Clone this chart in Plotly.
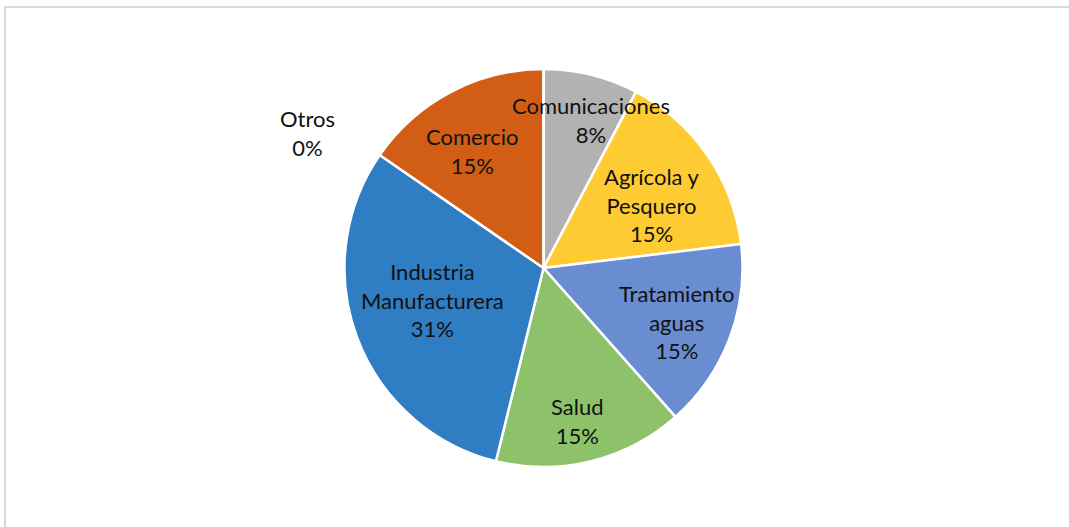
import math
import plotly.graph_objects as go

# dati (n. di casi per sector)
sectores = ["Comunicaciones", "Agrícola y<br>Pesquero", "Tratamiento<br>aguas",
            "Salud", "Industria<br>Manufacturera", "Comercio", "Otros"]
casos = [1, 2, 2, 2, 4, 2, 0]
colores = ["#B2B2B2", "#FFCB33", "#6A8DD1", "#8DC26A", "#2F7DC2", "#D15E14", "#7F7F7F"]

W, H = 1069, 527
CX, CY, R = 543.5, 268, 199

# posizione delle etichette: frazione del raggio e scarto angolare (gradi)
label_r = [0.78, 0.63, 0.72, 0.79, 0.58, 0.69]
label_da = [3.8, 4.7, 1.3, 1.3, 4.7, -3.7]

fig = go.Figure()
fig.add_trace(go.Pie(
    labels=sectores,
    values=casos,
    marker=dict(colors=colores, line=dict(color="#FFFFFF", width=2.5)),
    sort=False,
    direction="clockwise",
    rotation=0,
    textinfo="none",
    hoverinfo="label+percent",
    showlegend=False,
    domain=dict(x=[(CX - R) / W, (CX + R) / W], y=[1 - (CY + R) / H, 1 - (CY - R) / H]),
))

total = sum(casos)
acum = 0
for i, (nom, v) in enumerate(zip(sectores, casos)):
    pct = f"{round(100 * v / total)}%"
    if v == 0:
        # etichetta esterna per la fetta vuota
        x_px, y_px = 307, 133
    else:
        mid = (acum + v / 2) / total * 2 * math.pi + math.radians(label_da[i])
        rr = R * label_r[i]
        x_px = CX + rr * math.sin(mid)
        y_px = CY - rr * math.cos(mid)
    acum += v
    fig.add_annotation(
        x=x_px / W, y=1 - y_px / H, xref="paper", yref="paper",
        text=f"{nom}<br>{pct}", showarrow=False,
        font=dict(family="Lato", size=22, color="#111111"),
        xanchor="center", yanchor="middle", align="center",
    )

# cornice grigia del grafico
fig.add_shape(type="rect", xref="paper", yref="paper",
              x0=5 / W, x1=1.05, y0=-0.05, y1=1 - 7 / H,
              line=dict(color="#D9D9D9", width=2), fillcolor="rgba(0,0,0,0)")

fig.update_layout(
    width=W, height=H,
    margin=dict(t=0, b=0, l=0, r=0),
    paper_bgcolor="#FFFFFF",
    plot_bgcolor="#FFFFFF",
)
fig.write_html(
    "out.html",
    config={"displayModeBar": False},
    post_script="document.body.style.margin='0';document.body.style.overflow='hidden';",
)
